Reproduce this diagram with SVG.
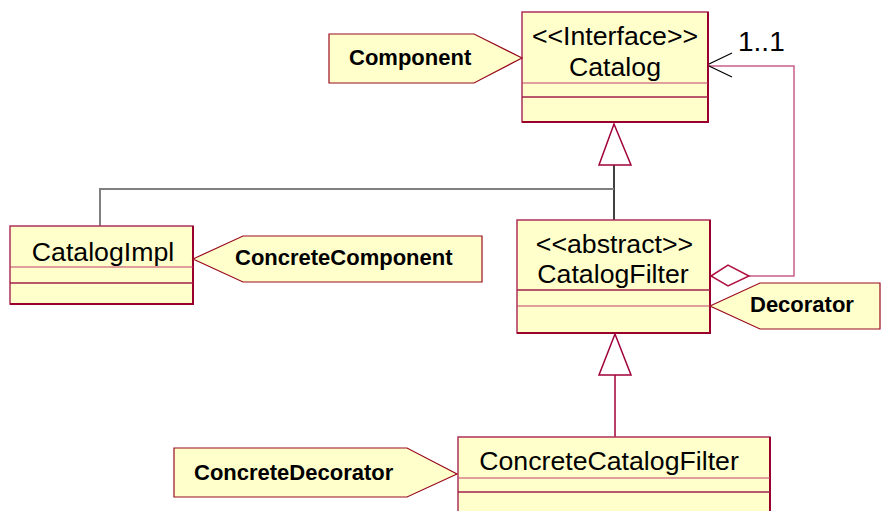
<svg xmlns="http://www.w3.org/2000/svg" width="882" height="511" viewBox="0 0 882 511">
<style>
.box{fill:#FFFFCC;stroke:#B0305C;stroke-width:1.5}
.edge{fill:none;stroke:#99002E;stroke-width:2}
.div1{stroke:#C0406A;stroke-width:1.2}
.div2{stroke:#A0204A;stroke-width:1.5}
.tag{fill:#FFFFCC;stroke:#990A1E;stroke-width:1.2}
.cls{font-family:"Liberation Sans",Arial,sans-serif;font-size:26.7px;fill:#000;text-anchor:middle}
.lbl{font-family:"Liberation Sans",Arial,sans-serif;font-size:22px;font-weight:bold;fill:#000}
.tri{fill:#fff;stroke:#A0003A;stroke-width:1.5}
</style>
<rect width="882" height="511" fill="#fff"/>
<g id="connectors">
  <line x1="614" y1="220" x2="614" y2="165" stroke="#000" stroke-width="1.5"/>
  <polyline points="100,226 100,189 614,189" fill="none" stroke="#808080" stroke-width="2"/>
  <polygon class="tri" points="614,124 599,165 631,165"/>
  <line x1="615" y1="437" x2="615" y2="375" stroke="#A0003A" stroke-width="1.5"/>
  <polygon class="tri" points="615,334 599,375 631,375"/>
  <polyline points="749,276 794,276 794,66 707,66" fill="none" stroke="#C86088" stroke-width="1.5"/>
  <polygon points="711,276 728,265 749,276 728,286" fill="#fff" stroke="#B01040" stroke-width="1.5"/>
  <polyline points="732,53 707,65 732,77" fill="none" stroke="#000" stroke-width="1.2"/>
  <text x="738" y="51" font-family="Liberation Sans, Arial, sans-serif" font-size="28" fill="#000">1..1</text>
</g>
<g id="Catalog">
  <rect class="box" x="522" y="12" width="186" height="110"/>
  <polyline class="edge" points="708,12 708,122 522,122"/>
  <line class="div1" x1="522" y1="83" x2="708" y2="83"/>
  <line class="div2" x1="522" y1="97" x2="708" y2="97"/>
  <text class="cls" x="615" y="45">&lt;&lt;Interface&gt;&gt;</text>
  <text class="cls" x="615" y="76">Catalog</text>
</g>
<g id="CatalogFilter">
  <rect class="box" x="517" y="220" width="193" height="113"/>
  <polyline class="edge" points="710,220 710,333 517,333"/>
  <line class="div2" x1="517" y1="290" x2="710" y2="290"/>
  <line class="div1" x1="517" y1="306" x2="710" y2="306"/>
  <text class="cls" x="614.5" y="253">&lt;&lt;abstract&gt;&gt;</text>
  <text class="cls" x="613" y="283">CatalogFilter</text>
</g>
<g id="CatalogImpl">
  <rect class="box" x="10" y="226" width="183" height="78"/>
  <polyline class="edge" points="193,226 193,304 10,304"/>
  <line class="div1" x1="10" y1="267" x2="193" y2="267"/>
  <line class="div2" x1="10" y1="283" x2="193" y2="283"/>
  <text class="cls" x="103" y="261">CatalogImpl</text>
</g>
<g id="ConcreteCatalogFilter">
  <rect class="box" x="458" y="437" width="312" height="80"/>
  <line class="edge" x1="770" y1="437" x2="770" y2="511"/>
  <line class="div1" x1="458" y1="478" x2="770" y2="478"/>
  <line class="div2" x1="458" y1="492" x2="770" y2="492"/>
  <text class="cls" x="609" y="470">ConcreteCatalogFilter</text>
</g>
<g id="Component">
  <polygon class="tag" points="329,34 474,34 522,58 474,83 329,83"/>
  <text class="lbl" x="349" y="65">Component</text>
</g>
<g id="ConcreteComponent">
  <polygon class="tag" points="193,259 243,236 482,236 482,282 243,282"/>
  <text class="lbl" x="235" y="265">ConcreteComponent</text>
</g>
<g id="Decorator">
  <polygon class="tag" points="710,306 760,283 880,283 880,329 760,329"/>
  <text class="lbl" x="750" y="312">Decorator</text>
</g>
<g id="ConcreteDecorator">
  <polygon class="tag" points="174,448 407,448 457,474 407,497 174,497"/>
  <text class="lbl" x="194" y="480">ConcreteDecorator</text>
</g>
</svg>
